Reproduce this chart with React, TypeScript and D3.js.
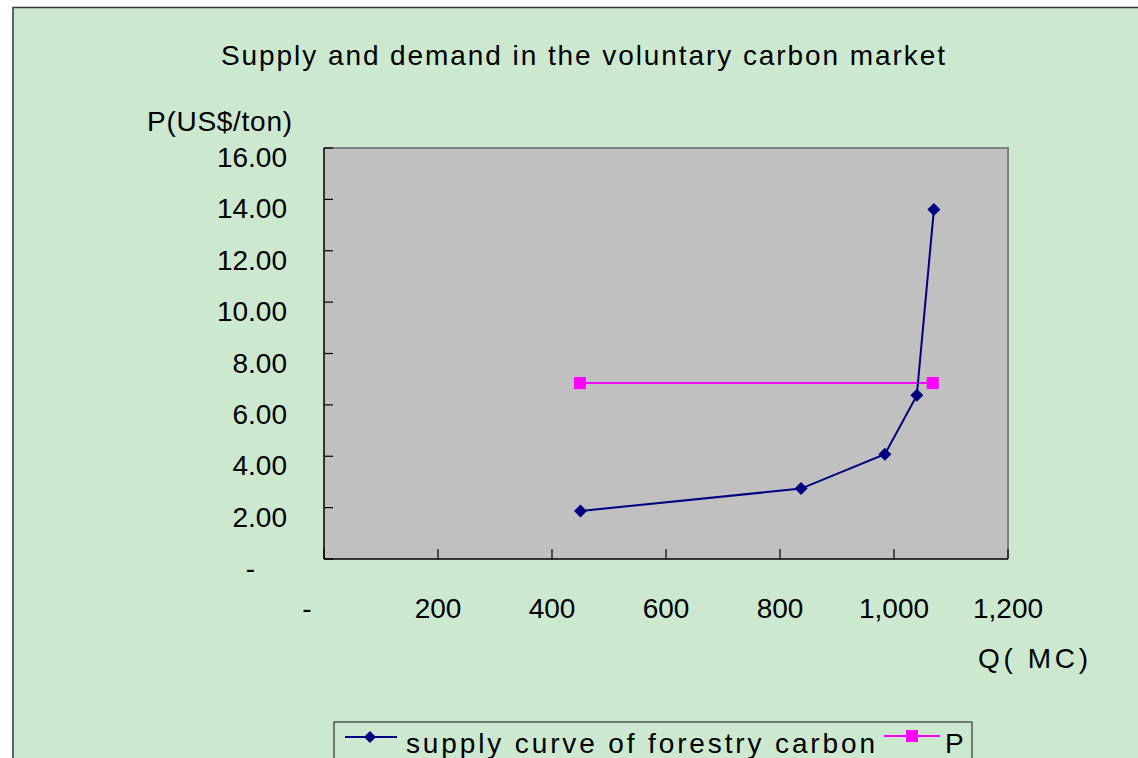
import React from "react";
import * as d3 from "d3";

const supplyQ = [450, 837, 984, 1040, 1070];
const supplyP = [1.87, 2.74, 4.08, 6.37, 13.61];
const demandQ = [449, 1068];
const demandP = [6.85, 6.85];
const xTicks = [0, 200, 400, 600, 800, 1000, 1200];
const yTicks = [0, 2, 4, 6, 8, 10, 12, 14, 16];
const title = "Supply and demand in the voluntary carbon market";
const yTitle = "P(US$/ton)";
const xTitle = "Q( MC)";
const seriesNames = ["supply curve of forestry carbon", "P"];

const FONT = "'Liberation Sans', Arial, sans-serif";

export default function App() {
  const W = 1138, H = 758;
  const L = 324, R = 1008, T = 148, B = 559;
  const x = d3.scaleLinear().domain([0, 1200]).range([L, R]);
  const y = d3.scaleLinear().domain([0, 16]).range([B, T]);
  const line = d3.line<[number, number]>().x(d => x(d[0])).y(d => y(d[1]));
  const supply: [number, number][] = supplyQ.map((q, i) => [q, supplyP[i]]);
  const demand: [number, number][] = demandQ.map((q, i) => [q, demandP[i]]);
  const xFmt = (v: number) => (v === 0 ? "-" : d3.format(",")(v));
  const yFmt = (v: number) => (v === 0 ? "-" : d3.format(".2f")(v));
  const diamond = (cx: number, cy: number, r = 6.5) =>
    `M${cx},${cy - r}L${cx + r},${cy}L${cx},${cy + r}L${cx - r},${cy}Z`;

  return (
    <svg width={W} height={H} style={{ position: "absolute", left: 0, top: 0, display: "block" }}
      fontFamily={FONT}>
      <rect x={0} y={0} width={W} height={H} fill="#ffffff" />
      <rect x={13} y={7.5} width={W + 20} height={H + 20} fill="#CCE8CF" stroke="#333333" strokeWidth={1.5} />
      <text x={221} y={65} fontSize={28} textLength={724} lengthAdjust="spacing" fill="#000">{title}</text>
      <text x={147} y={131} fontSize={28} textLength={145} lengthAdjust="spacing" fill="#000">{yTitle}</text>
      <text x={978} y={668} fontSize={28} textLength={110} lengthAdjust="spacing" fill="#000">{xTitle}</text>

      {/* plot area */}
      <rect x={L} y={T} width={R - L} height={B - T} fill="#C0C0C0" />
      <path d={`M${L},${T}H${R}V${B}`} fill="none" stroke="#808080" strokeWidth={2} />
      <line x1={L} y1={T} x2={L} y2={B} stroke="#000" strokeWidth={1.5} />
      <line x1={L} y1={B} x2={R} y2={B} stroke="#000" strokeWidth={1.5} />

      {xTicks.map(v => (
        <g key={"x" + v}>
          <line x1={x(v)} x2={x(v)} y1={B} y2={B - 10} stroke="#000" strokeWidth={1.2} />
          <text x={v === 0 ? 307 : x(v)} y={618} fontSize={28} textAnchor="middle" fill="#000">{xFmt(v)}</text>
        </g>
      ))}
      {yTicks.map(v => (
        <g key={"y" + v}>
          <line x1={L} x2={L + 9} y1={y(v)} y2={y(v)} stroke="#000" strokeWidth={1.2} />
          <text x={v === 0 ? 255 : 287} y={y(v) + 19} fontSize={28} textAnchor="end" fill="#000">{yFmt(v)}</text>
        </g>
      ))}

      {/* series */}
      <path d={line(demand) || ""} fill="none" stroke="#FF00FF" strokeWidth={2} />
      {demand.map((d, i) => (
        <rect key={"d" + i} x={x(d[0]) - 6} y={y(d[1]) - 6} width={12} height={12} fill="#FF00FF" />
      ))}
      <path d={line(supply) || ""} fill="none" stroke="#000080" strokeWidth={2} />
      {supply.map((d, i) => (
        <path key={"s" + i} d={diamond(x(d[0]), y(d[1]))} fill="#000080" />
      ))}

      {/* legend */}
      <rect x={334} y={722} width={638} height={60} fill="#CCE8CF" stroke="#333333" strokeWidth={1.2} />
      <line x1={345} x2={397} y1={737} y2={737} stroke="#000080" strokeWidth={2} />
      <path d={diamond(370, 737, 6)} fill="#000080" />
      <text x={406} y={753} fontSize={28} textLength={469} lengthAdjust="spacing" fill="#000">{seriesNames[0]}</text>
      <line x1={884} x2={940} y1={736} y2={736} stroke="#FF00FF" strokeWidth={2} />
      <rect x={906} y={730} width={12} height={12} fill="#FF00FF" />
      <text x={945} y={753} fontSize={28} fill="#000">{seriesNames[1]}</text>
    </svg>
  );
}
